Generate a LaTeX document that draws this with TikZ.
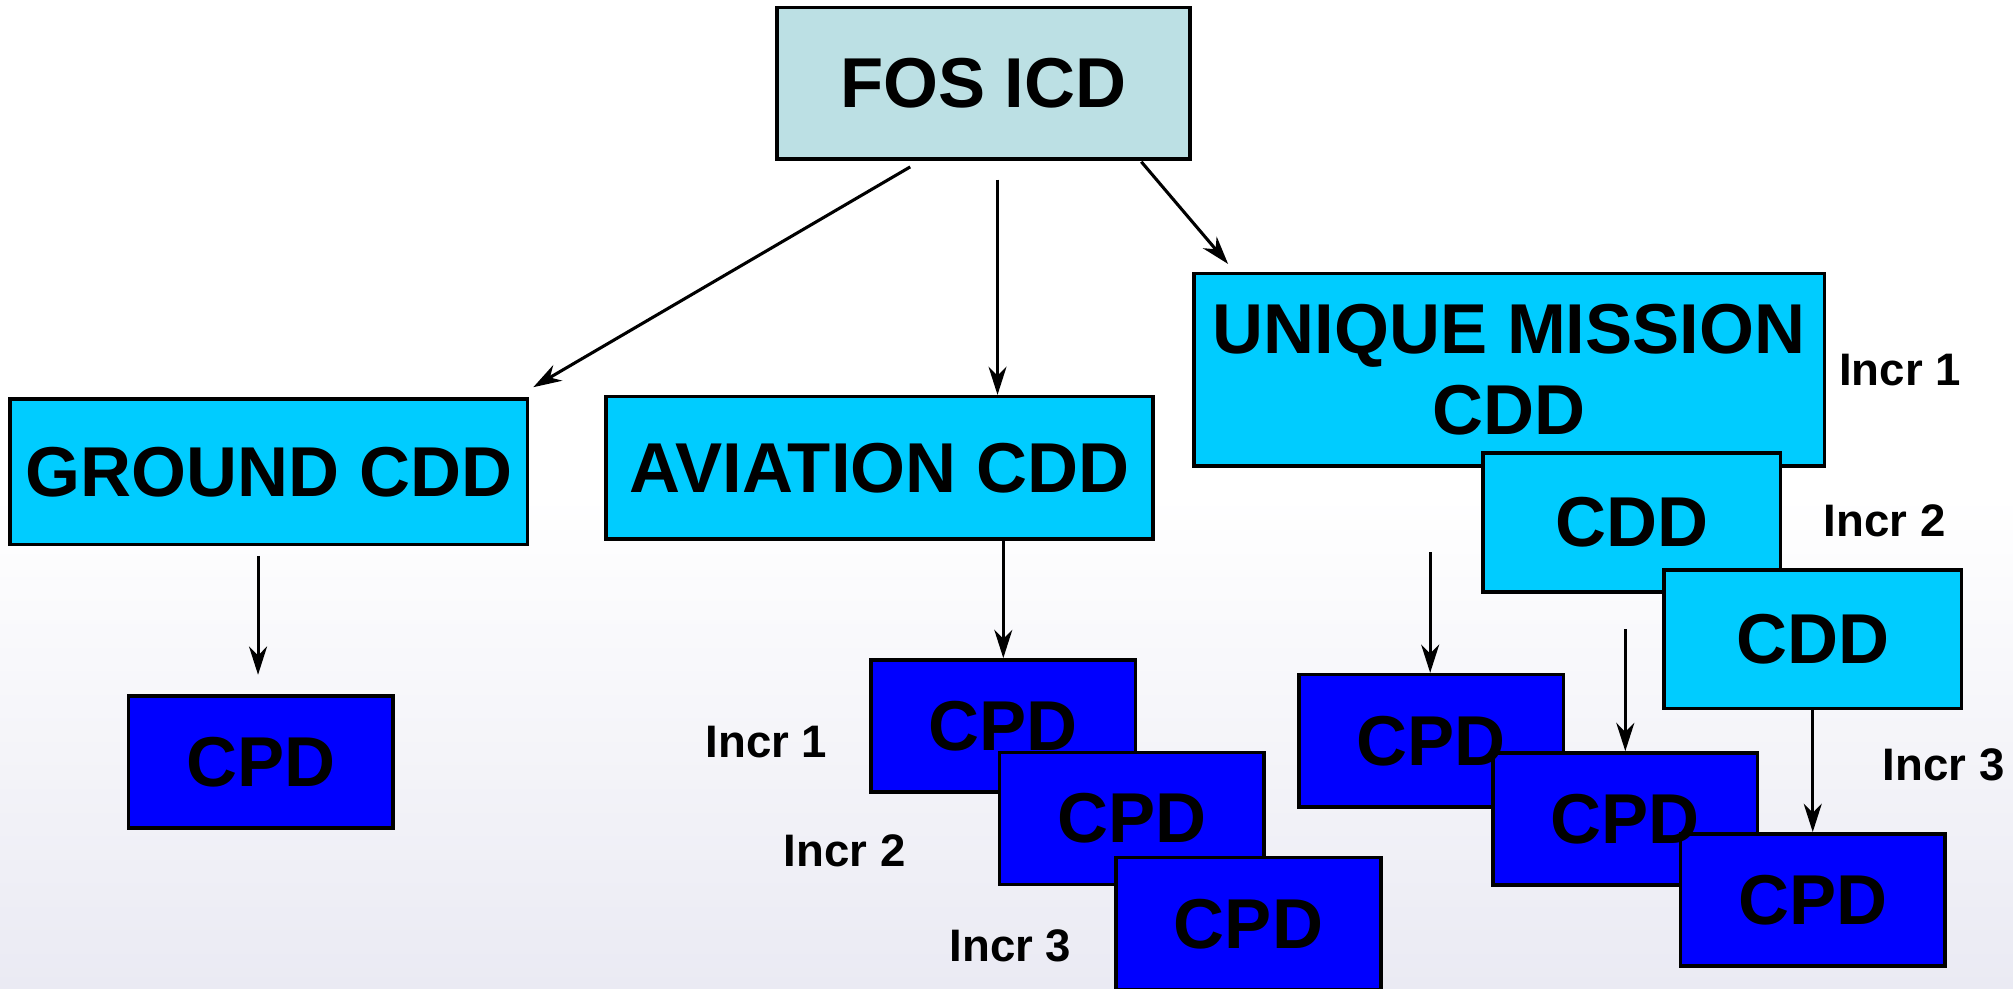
\documentclass[tikz,border=0pt]{standalone}
\usepackage{fontspec}
\setmainfont{Liberation Sans}
\usetikzlibrary{arrows.meta}
\definecolor{icdteal}{HTML}{BCE0E4}
\definecolor{cddcyan}{HTML}{00CCFF}
\definecolor{cpdblue}{HTML}{0000FF}
\definecolor{bgfade}{HTML}{EAEAF3}
\tikzset{
  box/.style={rectangle,draw=black,line width=2.8pt,inner sep=0pt,align=center,
    font=\bfseries\fontsize{55}{63}\selectfont},
  icd/.style={box,fill=icdteal,minimum width=322pt,minimum height=118pt},
  cdd/.style={box,fill=cddcyan},
  cpd/.style={box,fill=cpdblue,minimum width=206pt,minimum height=103pt},
  cpdtext/.style={inner sep=0pt,font=\bfseries\fontsize{55}{63}\selectfont},
  incr/.style={inner sep=0pt,font=\bfseries\fontsize{35.5}{42}\selectfont},
  arr/.style={line width=2.4pt,-{Stealth[length=22pt,width=14pt,inset=7pt]}}
}
\begin{document}
\begin{tikzpicture}[x=1pt,y=-1pt]
  \shade[top color=white,bottom color=bgfade,middle color=white] (0,0) rectangle (1568,770);
  \useasboundingbox (0,0) rectangle (1568,770);

  \node[icd] (fos) at (766,65) {FOS ICD};
  \node[cdd,minimum width=403pt,minimum height=113pt] (ground) at (209.5,367.5) {GROUND CDD};
  \node[cdd,minimum width=426pt,minimum height=111pt] (aviation) at (685,364.5) {AVIATION CDD};
  \node[cdd,minimum width=491pt,minimum height=150pt] (mission) at (1175.5,288) {UNIQUE MISSION\\CDD};
  \node[cdd,minimum width=232pt,minimum height=108pt] (cdd2) at (1271,407) {CDD};
  \node[cdd,minimum width=232pt,minimum height=108pt] (cdd3) at (1412,498) {CDD};

  % CPD boxes first, their texts on top
  \node[cpd] (g1) at (203,593.5) {};
  \node[cpd] (a1) at (781.5,565.5) {};
  \node[cpd] (a2) at (881.5,637.5) {};
  \node[cpd] (a3) at (972.5,719.5) {};
  \node[cpd] (u1) at (1115,577) {};
  \node[cpd] (u2) at (1266,638) {};
  \node[cpd] (u3) at (1412,701) {};
  \foreach \n in {g1,a1,a2,a3,u1,u2,u3}
    \node[cpdtext] (t\n) at (\n) {CPD};

  \node[incr] (ia1) at (597,578) {Incr 1};
  \node[incr] (ia2) at (658,663) {Incr 2};
  \node[incr] (ia3) at (787,737) {Incr 3};
  \node[incr] (im1) at (1480,288) {Incr 1};
  \node[incr] (im2) at (1468,406) {Incr 2};
  \node[incr] (im3) at (1514,596) {Incr 3};

  \coordinate (s1) at (709,130);
  \coordinate (s2) at (777,140);
  \coordinate (s3) at (889,126);
  \coordinate (s4) at (201,433);
  \coordinate (s5) at (1114,430);
  \coordinate (s6) at (1266,490);
  \draw[arr] (s1) -- ([shift={(3,-8)}]ground.north east);
  \draw[arr] (s2) -- (s2 |- aviation.north);
  \draw[arr] (s3) -- ([shift={(28,-6)}]mission.north west);
  \draw[arr,shorten >=15pt] (s4) -- (s4 |- g1.north);
  \draw[arr] (aviation.south -| a1.north) -- (a1.north);
  \draw[arr] (s5) -- (s5 |- u1.north);
  \draw[arr] (s6) -- (s6 |- u2.north);
  \draw[arr] (cdd3.south) -- (u3.north);
\end{tikzpicture}
\end{document}
